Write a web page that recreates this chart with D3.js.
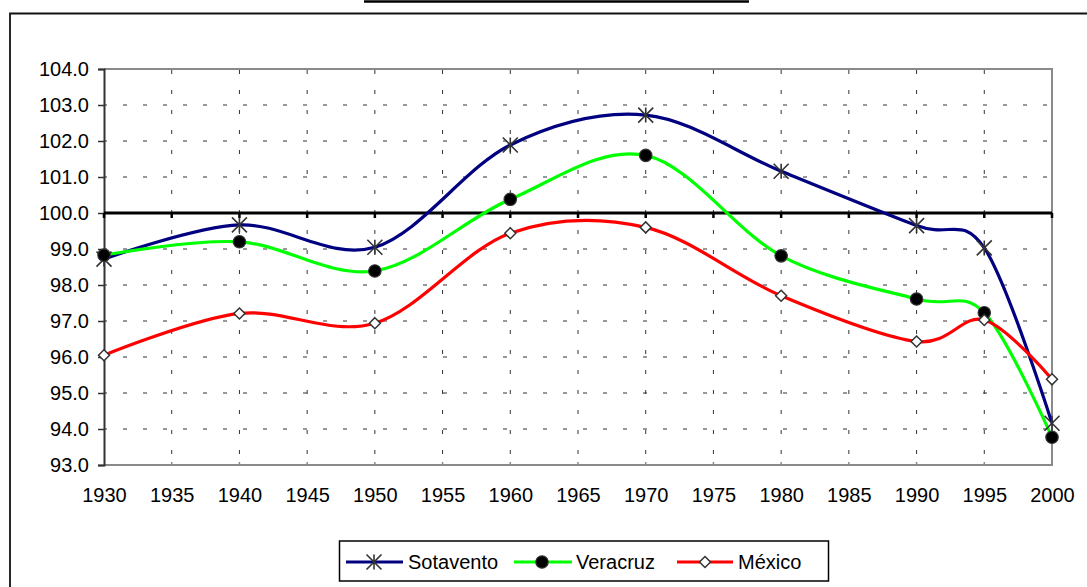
<!DOCTYPE html>
<html>
<head>
<meta charset="utf-8">
<script src="https://cdn.jsdelivr.net/npm/d3@7"></script>
<style>
  html, body { margin: 0; padding: 0; background: #fff; }
  svg { display: block; }
  text { font-family: "Liberation Sans", Arial, sans-serif; fill: #000; }
</style>
</head>
<body>
<svg id="chart" width="1087" height="587"></svg>
<script>
// Census years with observations
const years = [1930, 1940, 1950, 1960, 1970, 1980, 1990, 1995, 2000];

// Index values per region (100 = parity)
const sotavento = [98.72, 99.67, 99.05, 101.89, 102.72, 101.16, 99.65, 99.03, 94.16];
const veracruz  = [98.83, 99.20, 98.39, 100.38, 101.60, 98.81, 97.61, 97.23, 93.77];
const mexico    = [96.05, 97.21, 96.94, 99.44, 99.60, 97.70, 96.43, 97.03, 95.38];

// Axis tick labels
const xTicks = [1930, 1935, 1940, 1945, 1950, 1955, 1960, 1965, 1970, 1975, 1980, 1985, 1990, 1995, 2000];
const yTicks = [93, 94, 95, 96, 97, 98, 99, 100, 101, 102, 103, 104];

const seriesNames = ["Sotavento", "Veracruz", "México"];
const seriesColors = ["#000080", "#00FF00", "#FF0000"];
const seriesMarkers = ["star", "circle", "diamond"];
const seriesValues = [sotavento, veracruz, mexico];

const svg = d3.select("#chart");

const plot = { left: 104, right: 1052, top: 69, bottom: 465 };

const x = d3.scaleLinear().domain([1930, 2000]).range([plot.left, plot.right]);
const y = d3.scaleLinear().domain([93, 104]).range([plot.bottom, plot.top]);

// Title underline and outer frame
svg.append("line")
  .attr("x1", 364).attr("x2", 749).attr("y1", 1.5).attr("y2", 1.5)
  .attr("stroke", "#000").attr("stroke-width", 2.5);
svg.append("path")
  .attr("d", "M10,587 V13.5 H1087")
  .attr("fill", "none").attr("stroke", "#111").attr("stroke-width", 1.8);

// Gridlines
const gridY = yTicks.filter(v => v !== 93 && v !== 104 && v !== 100);
svg.append("g").selectAll("line").data(gridY).join("line")
  .attr("x1", plot.left).attr("x2", plot.right)
  .attr("y1", d => y(d)).attr("y2", d => y(d))
  .attr("stroke", "#333").attr("stroke-width", 1)
  .attr("stroke-dasharray", "4 16").attr("stroke-dashoffset", 1);

const gridX = xTicks.filter(v => v !== 1930 && v !== 2000);
svg.append("g").selectAll("line").data(gridX).join("line")
  .attr("x1", d => x(d)).attr("x2", d => x(d))
  .attr("y1", plot.top).attr("y2", plot.bottom)
  .attr("stroke", "#333").attr("stroke-width", 1)
  .attr("stroke-dasharray", "4 16").attr("stroke-dashoffset", -1);

// Plot border (top, right, bottom)
svg.append("path")
  .attr("d", `M${plot.left},${plot.top} H${plot.right} V${plot.bottom} H${plot.left}`)
  .attr("fill", "none").attr("stroke", "#8a8a8a").attr("stroke-width", 2);

// small ticks on bottom border
svg.append("g").selectAll("line").data(gridX).join("line")
  .attr("x1", d => x(d)).attr("x2", d => x(d))
  .attr("y1", plot.bottom - 3).attr("y2", plot.bottom)
  .attr("stroke", "#8a8a8a").attr("stroke-width", 1.5);

// Y axis
const yAxis = d3.axisLeft(y).tickValues(yTicks).tickFormat(d3.format(".1f")).tickSize(6).tickPadding(9);
const yG = svg.append("g").attr("transform", `translate(${plot.left},0)`).call(yAxis);
yG.select(".domain").attr("stroke", "#333").attr("stroke-width", 2);
yG.selectAll(".tick line").attr("stroke", "#333").attr("stroke-width", 1.5);
yG.selectAll(".tick text").style("font-size", "20px").attr("fill", "#000")
  .style("font-family", '"Liberation Sans", Arial, sans-serif');

// X tick labels
const xAxis = d3.axisBottom(x).tickValues(xTicks).tickFormat(d3.format("d")).tickSize(0).tickPadding(23);
const xG = svg.append("g").attr("transform", `translate(0,${plot.bottom})`).call(xAxis);
xG.select(".domain").remove();
xG.selectAll(".tick text").style("font-size", "20px").attr("fill", "#000")
  .style("font-family", '"Liberation Sans", Arial, sans-serif');

// Reference line at 100 with category ticks
svg.append("line")
  .attr("x1", plot.left).attr("x2", plot.right)
  .attr("y1", y(100)).attr("y2", y(100))
  .attr("stroke", "#000").attr("stroke-width", 3);
svg.append("g").selectAll("line").data(xTicks).join("line")
  .attr("x1", d => x(d)).attr("x2", d => x(d))
  .attr("y1", y(100)).attr("y2", y(100) + 5)
  .attr("stroke", "#000").attr("stroke-width", 2.5);

// Series lines
const line = d3.line()
  .x((d, i) => x(years[i]))
  .y(d => y(d))
  .curve(d3.curveCardinal.tension(0));

seriesValues.forEach((vals, k) => {
  svg.append("path")
    .datum(vals)
    .attr("d", line)
    .attr("fill", "none")
    .attr("stroke", seriesColors[k])
    .attr("stroke-width", 3.2)
    .attr("stroke-linejoin", "round");
});

// Marker drawing
function drawMarker(g, type, cx, cy) {
  if (type === "star") {
    const s = 7.5;
    g.append("path")
      .attr("d", `M${cx - s},${cy - s}L${cx + s},${cy + s}M${cx - s},${cy + s}L${cx + s},${cy - s}M${cx},${cy - s}L${cx},${cy + s}`)
      .attr("stroke", "#333").attr("stroke-width", 1.6).attr("fill", "none");
  } else if (type === "circle") {
    g.append("circle").attr("cx", cx).attr("cy", cy).attr("r", 6.2)
      .attr("fill", "#000").attr("stroke", "#333").attr("stroke-width", 1.2);
  } else {
    const s = 5.5;
    g.append("path")
      .attr("d", `M${cx},${cy - s}L${cx + s},${cy}L${cx},${cy + s}L${cx - s},${cy}Z`)
      .attr("fill", "#fff").attr("stroke", "#333").attr("stroke-width", 1.5);
  }
}

seriesValues.forEach((vals, k) => {
  const g = svg.append("g");
  vals.forEach((v, i) => drawMarker(g, seriesMarkers[k], x(years[i]), y(v)));
});

// Legend
const legend = svg.append("g");
legend.append("rect")
  .attr("x", 339.5).attr("y", 541).attr("width", 489).attr("height", 40)
  .attr("fill", "#fff").attr("stroke", "#000").attr("stroke-width", 1.5);

const legendItems = [
  { lx1: 346, lx2: 403, mx: 374, tx: 408 },
  { lx1: 514, lx2: 572, mx: 542, tx: 576 },
  { lx1: 677, lx2: 733, mx: 705, tx: 738 }
];
const ly = 562;
legendItems.forEach((it, k) => {
  legend.append("line")
    .attr("x1", it.lx1).attr("x2", it.lx2).attr("y1", ly).attr("y2", ly)
    .attr("stroke", seriesColors[k]).attr("stroke-width", 3.2);
  drawMarker(legend, seriesMarkers[k], it.mx, ly);
  legend.append("text")
    .attr("x", it.tx).attr("y", ly + 7)
    .style("font-size", "20px")
    .text(seriesNames[k]);
});
</script>
</body>
</html>
